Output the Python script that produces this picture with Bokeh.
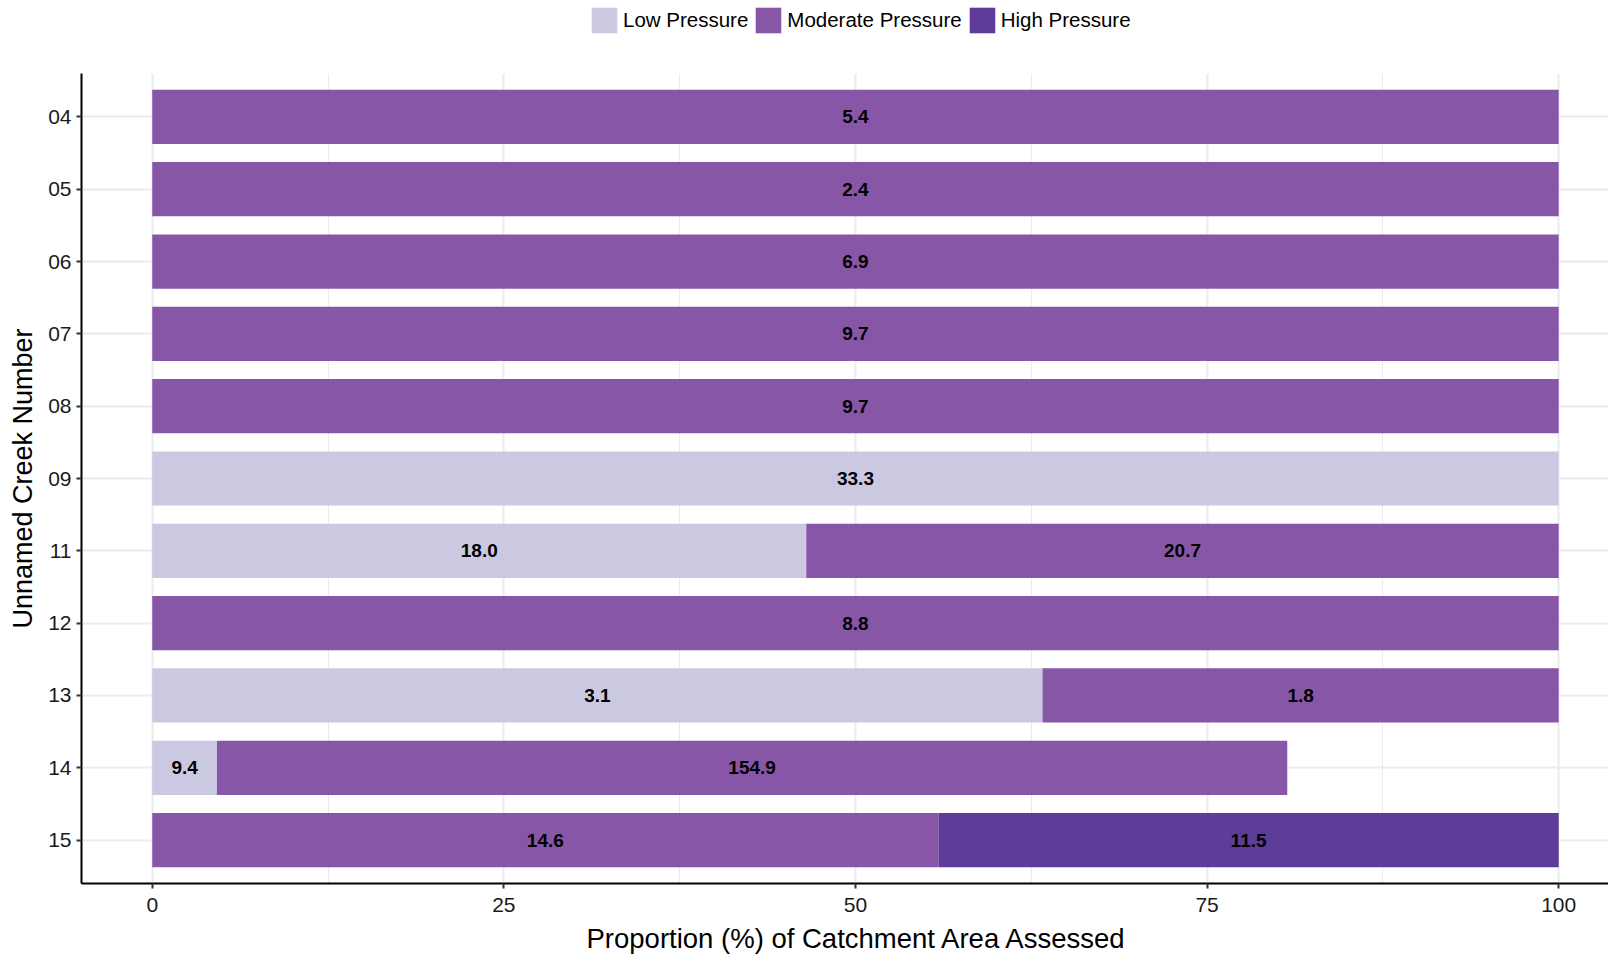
from bokeh.plotting import figure
from bokeh.layouts import column
from bokeh.models import ColumnDataSource, FactorRange, Range1d, FixedTicker, Legend, LegendItem, Title
from bokeh.core.properties import value
from bokeh.embed import file_html
from bokeh.resources import INLINE

creeks = ["04", "05", "06", "07", "08", "09", "11", "12", "13", "14", "15"]
low_pct = [0, 0, 0, 0, 0, 100, 46.5, 0, 63.3, 4.6, 0]
mod_pct = [100, 100, 100, 100, 100, 0, 53.5, 100, 36.7, 76.1, 55.9]
high_pct = [0, 0, 0, 0, 0, 0, 0, 0, 0, 0, 44.1]
low_lbl = ["", "", "", "", "", "33.3", "18.0", "", "3.1", "9.4", ""]
mod_lbl = ["5.4", "2.4", "6.9", "9.7", "9.7", "", "20.7", "8.8", "1.8", "154.9", "14.6"]
high_lbl = ["", "", "", "", "", "", "", "", "", "", "11.5"]
series = ["Low Pressure", "Moderate Pressure", "High Pressure"]
colors = ["#CBC9E2", "#8856A7", "#5E3C99"]
x_ticks = [0, 25, 50, 75, 100]
x_minor = [12.5, 37.5, 62.5, 87.5]

FONT = "Liberation Sans"
W = 1608
LB = 81

# ---- legend strip ----
leg = figure(width=W, height=73, output_backend="svg", toolbar_location=None,
             x_range=Range1d(0, 1), y_range=Range1d(0, 1),
             x_axis_location=None, y_axis_location=None,
             min_border_left=LB, min_border_right=0, min_border_top=0, min_border_bottom=0)
leg.outline_line_color = None
leg.grid.visible = False
dummy = []
for col in colors:
    dummy.append(leg.rect(x=[50], y=[50], width=1, height=1, fill_color=col, line_color=None))
legend = Legend(items=[LegendItem(label=s, renderers=[r]) for s, r in zip(series, dummy)],
                orientation="horizontal", location=(507, 37),
                glyph_width=32, glyph_height=32, label_standoff=3, spacing=4,
                padding=0, margin=0, border_line_color=None, background_fill_alpha=0,
                label_text_font=FONT, label_text_font_size="20.5px", label_text_color="black")
leg.add_layout(legend, "center")

# ---- main chart ----
p = figure(width=W, height=886, output_backend="svg", toolbar_location=None,
           y_range=FactorRange(*reversed(creeks), range_padding=0.1, range_padding_units="absolute"),
           x_range=Range1d(-5.03, 103.54),
           min_border_left=LB, min_border_right=0, min_border_top=0, min_border_bottom=74)
p.outline_line_color = None
p.background_fill_color = "white"
p.border_fill_color = "white"

renderers = []
left = [0.0] * len(creeks)
for pcts, lbls, name, col in zip([low_pct, mod_pct, high_pct], [low_lbl, mod_lbl, high_lbl], series, colors):
    ys, ls, rs, ts, xs = [], [], [], [], []
    for i, c in enumerate(creeks):
        if pcts[i] > 0:
            ys.append(c)
            ls.append(left[i])
            rs.append(left[i] + pcts[i])
            ts.append(lbls[i])
            xs.append(left[i] + pcts[i] / 2)
        left[i] += pcts[i]
    src = ColumnDataSource(dict(y=ys, left=ls, right=rs, t=ts, x=xs))
    r = p.hbar(y="y", left="left", right="right", height=0.75, source=src,
               fill_color=col, line_color=None)
    renderers.append(r)
    p.text(x="x", y="y", text="t", source=src, text_align="center", text_baseline="middle",
           text_font=value(FONT), text_font_style="bold", text_font_size="19px", text_color="black")

# grids
p.xgrid.ticker = FixedTicker(ticks=x_ticks, minor_ticks=x_minor)
p.xgrid.grid_line_color = "#EBEBEB"
p.xgrid.grid_line_width = 2
p.xgrid.minor_grid_line_color = "#EBEBEB"
p.xgrid.minor_grid_line_width = 1
p.ygrid.grid_line_color = "#EBEBEB"
p.ygrid.grid_line_width = 2

# axes
p.xaxis.ticker = FixedTicker(ticks=x_ticks)
for ax in (p.xaxis[0], p.yaxis[0]):
    ax.axis_line_color = "black"
    ax.axis_line_width = 2
    ax.major_tick_line_color = "#333333"
    ax.major_tick_line_width = 2
    ax.major_tick_out = 5
    ax.major_tick_in = 0
    ax.minor_tick_line_color = None
    ax.major_label_text_font = FONT
    ax.major_label_text_font_size = "21px"
    ax.major_label_text_color = "#1A1A1A"
    ax.axis_label_text_font = FONT
    ax.axis_label_text_font_size = "27px"
    ax.axis_label_text_font_style = "normal"
    ax.axis_label_text_color = "black"

p.xaxis.major_label_standoff = 9
p.yaxis.axis_label = "Unnamed Creek Number"
p.yaxis.major_label_standoff = 5
p.yaxis.axis_label_standoff = 7

xtitle = Title(text="Proportion (%) of Catchment Area Assessed", align="left", offset=505,
               text_font=FONT, text_font_size="27.5px", text_font_style="normal",
               text_color="black", standoff=12, text_line_height=0.75)
p.add_layout(xtitle, "below")

layout = column(leg, p, spacing=0)
open("out.html", "w").write(file_html(layout, INLINE))
